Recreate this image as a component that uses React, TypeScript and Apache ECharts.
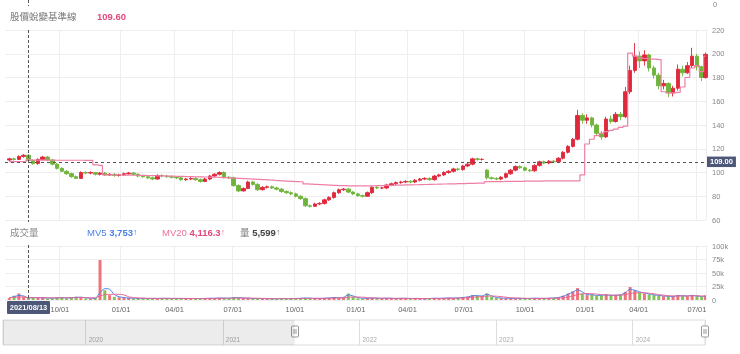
import React, { useEffect, useRef } from 'react';
import * as echarts from 'echarts';

// ---- calendar (trading days) ----
const CAL_START = '2021-07-12';
const CAL_END = '2024-07-12';
const HOLIDAYS = [
  '2021-09-20', '2021-09-21', '2021-10-11', '2021-12-31',
  '2022-01-27', '2022-01-28', '2022-01-31', '2022-02-01', '2022-02-02', '2022-02-03', '2022-02-04',
  '2022-02-28', '2022-04-04', '2022-04-05', '2022-05-02', '2022-06-03', '2022-09-09', '2022-10-10',
  '2023-01-02', '2023-01-18', '2023-01-19', '2023-01-20', '2023-01-23', '2023-01-24', '2023-01-25',
  '2023-01-26', '2023-01-27', '2023-02-27', '2023-02-28', '2023-04-03', '2023-04-04', '2023-04-05',
  '2023-05-01', '2023-06-22', '2023-06-23', '2023-09-29', '2023-10-09', '2023-10-10',
  '2024-01-01', '2024-02-06', '2024-02-07', '2024-02-08', '2024-02-09', '2024-02-12', '2024-02-13',
  '2024-02-14', '2024-02-28', '2024-04-04', '2024-04-05', '2024-05-01', '2024-06-10',
];
const STEP = 5; // one candle per 5 trading days
const OFFSET = 4;
const CROSSHAIR_DATE = '2021/08/13';
const BASE_LEVEL = 109;

// ---- price (weekly candles) ----
const opens = [
  110.5, 111.5, 111, 113.5, 114.5, 110, 107.5, 111, 113, 110.5,
  107, 103.5, 101, 99, 96.5, 95, 100, 99.5, 100, 98.5,
  99.5, 98, 98.5, 97.5, 98, 99, 99.5, 98.5, 97, 96.5,
  95.5, 94.5, 97.5, 97, 96.5, 96, 95.5, 94, 94.5, 95,
  94, 92.5, 94.5, 97, 98.5, 100, 96, 95.5, 89, 84.5,
  86.5, 92, 90, 85.5, 87.5, 88, 87, 86, 84, 83,
  82, 80, 78, 72, 71.5, 73.5, 74, 77, 79, 83,
  85.5, 86, 83.5, 82, 80.5, 80, 83, 87.5, 87, 87,
  89.5, 90.5, 91.5, 92, 92.5, 92, 93.5, 94.5, 95, 94,
  97, 98, 100, 101, 103, 102.5, 105.5, 107, 111.5, 111,
  102, 95.5, 95, 94.5, 96, 99, 102, 105, 104, 102,
  101.5, 106, 109, 108, 109.5, 109, 112, 117, 122, 128,
  148, 144, 146, 140, 133, 130, 145, 143, 149, 147,
  168, 186, 198, 194, 199, 188, 182, 173, 175, 167,
  171, 187, 184, 190, 198, 189, 180,
];
const closes = [
  111.5, 111, 113.5, 114.5, 110, 107.5, 111, 113, 110.5, 107,
  103.5, 101, 99, 96.5, 95, 100, 99.5, 100, 98.5, 99.5,
  98, 98.5, 97.5, 98, 99, 99.5, 98.5, 97, 96.5, 95.5,
  94.5, 97.5, 97, 96.5, 96, 95.5, 94, 94.5, 95, 94,
  92.5, 94.5, 97, 98.5, 100, 96, 95.5, 89, 84.5, 86.5,
  92, 90, 85.5, 87.5, 88, 87, 86, 84, 83, 82,
  80, 78, 72, 71.5, 73.5, 74, 77, 79, 83, 85.5,
  86, 83.5, 82, 80.5, 80, 83, 87.5, 87, 87, 89.5,
  90.5, 91.5, 92, 92.5, 92, 93.5, 94.5, 95, 94, 97,
  98, 100, 101, 103, 102.5, 105.5, 107, 111.5, 111, 111,
  95.5, 95, 94.5, 96, 99, 102, 105, 104, 102, 101.5,
  106, 109, 108, 109.5, 109, 112, 117, 122, 128, 148,
  144, 146, 140, 133, 130, 145, 143, 149, 147, 168,
  186, 198, 194, 199, 188, 182, 173, 175, 167, 171,
  187, 184, 190, 198, 189, 180, 199.5,
];
const lows = [
  109.5, 110, 110.5, 112.5, 109, 106.5, 106.5, 110, 109.5, 106,
  102.5, 100.5, 98, 95.5, 94.5, 94.5, 98.5, 98.5, 97.5, 97.5,
  97, 97, 96.5, 96.5, 97, 98, 97.5, 96, 95.5, 94.5,
  93.5, 94, 96, 95.5, 95, 94.5, 93, 93, 93.5, 93,
  91.5, 92, 93.5, 96, 97.5, 95, 94.5, 88, 83.5, 84,
  86, 89, 84.5, 85, 86.5, 86, 85, 83, 82, 81,
  79, 77, 71, 70.5, 71, 72.5, 73, 76, 78, 82,
  84.5, 82.5, 81, 79.5, 79, 79.5, 82, 86, 86, 86,
  88.5, 89.5, 90.5, 91, 91, 91, 92.5, 93.5, 93, 93,
  96, 97, 99, 100, 101.5, 101.5, 104.5, 106, 110, 110,
  94, 94, 93.5, 93.5, 95, 98, 101, 103, 101, 100.5,
  100.5, 105, 107, 107, 108, 108, 111, 116, 121, 127,
  141, 141, 138, 131, 127.5, 129, 141, 142, 144, 146,
  166, 184, 188, 190, 185, 179, 170, 170, 163.5, 164,
  169, 181, 183, 188, 186, 177, 179,
];
const highs = [
  112.5, 112.5, 114.5, 115.5, 115.5, 111, 112, 114, 114, 111.5,
  108, 104.5, 102, 100, 97.5, 101, 101, 101, 100.5, 100.5,
  100.5, 99.5, 99.5, 99, 100, 100.5, 100.5, 99.5, 98, 97.5,
  96.5, 98.5, 98.5, 98, 97.5, 97, 96.5, 95.5, 96, 96,
  95, 95.5, 98, 99.5, 101, 101, 97, 96.5, 90, 87.5,
  93, 93, 91, 88.5, 89, 89, 88, 87, 85, 84,
  83, 81, 79, 73, 74.5, 75, 78, 80, 84, 86.5,
  87, 87, 84.5, 83, 81.5, 84, 88.5, 88.5, 88, 90.5,
  91.5, 92.5, 93, 93.5, 93.5, 94.5, 95.5, 96, 96, 98,
  99, 101, 102, 104, 104, 106.5, 108, 112.5, 112.5, 112,
  103, 96.5, 96, 97, 100, 103, 106, 106, 105, 103,
  107, 110, 110, 110.5, 110.5, 113, 118, 123, 129, 152.8,
  150, 149, 147, 141, 135, 147, 148, 151, 151, 172,
  190, 209, 202, 203, 200, 190, 184, 178, 176, 173,
  191, 190, 193, 205, 200, 190, 201,
];
const baseline = [
  109.2, 109.2, 109.2, 109.2, 110.6, 110.5, 110.5, 110.4, 110.4, 110.4,
  110.3, 110.3, 110.3, 110.3, 110.3, 110.3, 110.2, 110.2, 106.4, 106,
  98, 98, 98, 97.9, 97.8, 97.8, 97.7, 97.6, 97.5, 97.4,
  97.3, 97.2, 97.1, 97, 96.9, 96.8, 96.7, 96.6, 96.5, 96.4,
  96.3, 96.2, 96.1, 96, 95.9, 95.7, 95.5, 95.3, 95, 94.8,
  94.6, 94.4, 94.2, 94, 93.8, 93.5, 93.2, 93, 92.8, 92.5,
  92.3, 92.2, 90.4, 90.2, 90, 89.8, 89.6, 89.4, 89.2, 89,
  88.9, 88.8, 88.7, 88.7, 88.7, 88.8, 88.8, 88.9, 89, 89.1,
  89.2, 89.3, 89.4, 89.5, 89.6, 89.7, 89.8, 89.9, 90, 90.1,
  90.2, 90.3, 90.4, 90.5, 90.6, 90.7, 90.8, 90.9, 91, 91,
  92.3, 92.3, 92.4, 92.4, 92.5, 92.5, 92.6, 92.6, 92.7, 92.7,
  92.8, 92.8, 92.9, 92.9, 92.9, 92.9, 92.9, 93, 93, 93,
  98, 124, 128, 131, 133, 134.5, 135.5, 136.5, 138, 139,
  200.5, 198, 196.5, 196, 195.5, 195.5, 195, 168, 167, 167,
  167.5, 172, 180, 188, 190, 185, 198,
];

// ---- volume ----
const volumes = [
  3500, 8000, 12000, 6000, 5600, 4000, 3500, 5000, 3000, 3500,
  4000, 5000, 3500, 4500, 6000, 5000, 3000, 2500, 3500, 74000,
  18000, 9000, 6000, 5000, 4000, 3500, 3000, 3500, 3000, 2500,
  3000, 2800, 3500, 3000, 2500, 3000, 2800, 2500, 3000, 2500,
  2500, 3000, 3500, 3000, 4000, 3500, 3000, 5000, 4500, 3500,
  3000, 2500, 3000, 2500, 2000, 2500, 2000, 3000, 2500, 2500,
  3000, 3500, 4000, 3000, 2500, 3000, 3500, 4000, 5000, 4000,
  5000, 12000, 6000, 3000, 2500, 3500, 4000, 3000, 3000, 3500,
  3000, 2500, 3500, 3000, 2500, 3000, 2500, 2000, 3000, 3500,
  3000, 3500, 4000, 3500, 4000, 5000, 6000, 9000, 8000, 7000,
  12000, 6000, 4000, 3500, 3000, 3500, 3000, 3000, 2500, 3000,
  3500, 3000, 3000, 3500, 4000, 5000, 8000, 12000, 16000, 22000,
  12000, 9000, 10000, 8000, 9000, 10000, 8000, 9000, 10000, 15000,
  24000, 18000, 14000, 12000, 10000, 9000, 8000, 7000, 7000, 6000,
  9000, 8000, 7000, 9000, 7000, 6000, 8000,
];
const mv5 = [
  4200, 6000, 8500, 7500, 3800, 4500, 4200, 4000, 3600, 3500,
  3800, 4300, 4200, 4300, 5000, 5200, 4200, 3300, 3000, 14000,
  21000, 20000, 10000, 6000, 4500, 3800, 3300, 3200, 3000, 2800,
  2900, 2900, 3100, 3100, 2900, 2900, 2900, 2700, 2800, 2700,
  2600, 2800, 3200, 3300, 3600, 3600, 3300, 4200, 4500, 3900,
  3200, 2800, 2800, 2600, 2300, 2400, 2200, 2600, 2600, 2500,
  2800, 3300, 3700, 3400, 2800, 2900, 3300, 3800, 4600, 4300,
  5000, 9500, 7500, 4500, 3200, 3200, 3700, 3300, 3000, 3300,
  3100, 2700, 3200, 3100, 2700, 2900, 2700, 2300, 2700, 3300,
  3100, 3400, 3800, 3600, 3900, 4700, 5600, 8000, 8200, 7300,
  11000, 7500, 4800, 3800, 3200, 3300, 3100, 3000, 2700, 2900,
  3300, 3100, 3000, 3300, 3800, 4700, 7000, 10500, 14500, 19000,
  15000, 10000, 9800, 8500, 8800, 9500, 8500, 8800, 9500, 13500,
  20000, 18000, 15000, 13000, 11000, 9500, 8500, 7500, 7000, 6500,
  8000, 8000, 7500, 8500, 7500, 6500, 7500,
];
const mv20 = [
  4500, 4800, 5500, 5800, 4100, 4300, 4400, 4300, 4200, 4000,
  4000, 4100, 4100, 4000, 4300, 4500, 4500, 4200, 4000, 7500,
  10000, 10500, 10500, 10500, 9500, 6000, 4500, 3800, 3400, 3200,
  3100, 3000, 3000, 3000, 3000, 2900, 2900, 2900, 2800, 2800,
  2800, 2800, 2900, 3000, 3100, 3200, 3300, 3500, 3700, 3700,
  3600, 3400, 3200, 3000, 2800, 2600, 2500, 2500, 2500, 2500,
  2600, 2700, 2900, 3100, 3100, 3100, 3100, 3200, 3500, 3700,
  4000, 5000, 5500, 5500, 5200, 4500, 3800, 3500, 3300, 3300,
  3200, 3100, 3000, 3000, 2900, 2900, 2900, 2800, 2800, 2800,
  2900, 3000, 3200, 3400, 3500, 3800, 4300, 5000, 5800, 6300,
  7000, 7300, 7000, 6300, 5200, 4300, 3800, 3500, 3200, 3000,
  3000, 3000, 3000, 3100, 3200, 3500, 4300, 5500, 7500, 10000,
  11500, 12000, 11500, 11000, 10000, 9500, 9000, 9000, 9000, 10000,
  12000, 13000, 13500, 13500, 12500, 11500, 10000, 9000, 8000, 7500,
  7500, 7500, 7500, 7800, 7800, 7500, 7500,
];

// ---- slider range ----
const SLIDER_MIN = '2019-05-25';
const SLIDER_MAX = '2024-07-12';
const WINDOW_START = '2021-07-12';

// ---- header texts ----
const HEADER_NAME = '股價蛻變基準線';
const HEADER_VALUE = '109.60';
const VOL_TITLE = '成交量';
const MV5_TEXT = '3,753';
const MV20_TEXT = '4,116.3';
const VOL_TEXT = '5,599';

const FONT = "'Liberation Sans', 'Noto Sans CJK TC', sans-serif";
const UP = '#e0283c';
const DOWN = '#6fb43a';
const VUP = 'rgba(235,90,100,0.85)';
const VDOWN = 'rgba(110,185,60,0.85)';
const BLUE = '#4a80e8';
const PINK = '#e9638f';
const BOX = '#4d5778';

function tradingDays(): string[] {
  const hol = new Set(HOLIDAYS);
  const out: string[] = [];
  const d = new Date(CAL_START + 'T00:00:00Z');
  const end = new Date(CAL_END + 'T00:00:00Z');
  while (d.getTime() <= end.getTime()) {
    const wd = d.getUTCDay();
    const iso = d.toISOString().slice(0, 10);
    if (wd !== 0 && wd !== 6 && !hol.has(iso)) out.push(iso.replace(/-/g, '/'));
    d.setUTCDate(d.getUTCDate() + 1);
  }
  return out;
}

const ts = (s: string) => new Date(s + 'T00:00:00').getTime();

export default function App() {
  const ref = useRef<HTMLDivElement>(null);
  useEffect(() => {
    if (!ref.current) return;
    const chart = echarts.init(ref.current, null, { renderer: 'svg' });
    const days = tradingDays();
    const idx = (k: number) => Math.min(k * STEP + OFFSET, days.length - 1);
    const quarterStart = (i: number) => {
      if (i <= 0) return false;
      const m = +days[i].slice(5, 7);
      const pm = +days[i - 1].slice(5, 7);
      return m !== pm && (m === 1 || m === 4 || m === 7 || m === 10);
    };
    const gridLine = { show: true, interval: (i: number) => quarterStart(i), lineStyle: { color: '#eeeeee', width: 1 } };

    const option: any = {
      animation: false,
      textStyle: { fontFamily: FONT },
      grid: [
        { left: 5, right: 34, top: 30, height: 190 },
        { left: 5, right: 34, top: 246, height: 54 },
        { left: 3, right: 35, top: 320, height: 25, show: true, borderColor: '#dcdcdc', borderWidth: 1, backgroundColor: 'transparent' },
      ],
      xAxis: [
        {
          type: 'category', gridIndex: 0, data: days, boundaryGap: true,
          axisLine: { show: false }, axisTick: { show: false }, axisLabel: { show: false },
          splitLine: gridLine,
        },
        {
          type: 'category', gridIndex: 1, data: days, boundaryGap: true,
          axisLine: { show: false }, axisTick: { show: false },
          axisLabel: {
            show: true, interval: (i: number) => quarterStart(i),
            formatter: (v: string) => v.slice(5, 7) + '/01',
            fontSize: 7.5, color: '#666', margin: 6, fontFamily: FONT,
          },
          splitLine: gridLine,
        },
        {
          type: 'time', gridIndex: 2, min: ts(SLIDER_MIN), max: ts(SLIDER_MAX),
          minInterval: 3600 * 24 * 1000 * 360, maxInterval: 3600 * 24 * 1000 * 370,
          axisLine: { show: false }, axisTick: { show: false },
          axisLabel: {
            inside: true, align: 'left', margin: 2, fontSize: 6.5, color: '#aaaaaa',
            padding: [0, 0, 0, 3], showMinLabel: false, showMaxLabel: false,
            formatter: (v: number) => String(new Date(v).getFullYear()), fontFamily: FONT,
          },
          splitLine: { show: true, lineStyle: { color: '#dddddd' } },
        },
      ],
      yAxis: [
        {
          type: 'value', gridIndex: 0, position: 'right', min: 60, max: 220, interval: 20,
          axisLine: { show: false }, axisTick: { show: false },
          axisLabel: { fontSize: 7.5, color: '#888', margin: 6, fontFamily: FONT },
          splitLine: { lineStyle: { color: '#eeeeee' } },
        },
        {
          type: 'value', gridIndex: 1, position: 'right', min: 0, max: 100000, interval: 25000,
          axisLine: { show: false }, axisTick: { show: false },
          axisLabel: {
            fontSize: 7.5, color: '#888', margin: 6, fontFamily: FONT,
            formatter: (v: number) => (v === 0 ? '0' : v / 1000 + 'k'),
          },
          splitLine: { lineStyle: { color: '#eeeeee' } },
        },
        { type: 'value', gridIndex: 2, show: false, min: 0, max: 1 },
      ],
      series: [
        {
          type: 'candlestick', xAxisIndex: 0, yAxisIndex: 0, barWidth: 4,
          encode: { x: 0, y: [1, 2, 3, 4] },
          data: closes.map((c, k) => [idx(k), opens[k], c, lows[k], highs[k]]),
          itemStyle: { color: UP, color0: DOWN, borderColor: UP, borderColor0: DOWN, borderWidth: 0.9 },
          markLine: {
            silent: true, symbol: ['none', 'none'],
            lineStyle: { type: [3, 3], color: '#555', width: 1 },
            label: {
              show: true, position: 'end', distance: 1, formatter: BASE_LEVEL.toFixed(2),
              backgroundColor: BOX, color: '#fff', fontSize: 7.5, fontWeight: 'bold',
              padding: [2, 3, 1, 3], fontFamily: FONT,
            },
            data: [{ yAxis: BASE_LEVEL }],
          },
          z: 3,
        },
        {
          type: 'line', xAxisIndex: 0, yAxisIndex: 0, step: 'middle', symbol: 'none',
          data: baseline.map((v, k) => [idx(k), v]),
          lineStyle: { color: '#ee7fa6', width: 1.2 }, z: 4,
        },
        {
          type: 'bar', xAxisIndex: 1, yAxisIndex: 1, barWidth: 3,
          data: volumes.map((v, k) => ({ value: [idx(k), v], itemStyle: { color: closes[k] >= opens[k] ? VUP : VDOWN } })),
        },
        {
          type: 'line', xAxisIndex: 1, yAxisIndex: 1, symbol: 'none', smooth: 0.2,
          data: mv5.map((v, k) => [idx(k), v]), lineStyle: { color: BLUE, width: 1 }, z: 5,
        },
        {
          type: 'line', xAxisIndex: 1, yAxisIndex: 1, symbol: 'none', smooth: 0.2,
          data: mv20.map((v, k) => [idx(k), v]), lineStyle: { color: PINK, width: 1 }, z: 5,
        },
        {
          type: 'line', xAxisIndex: 2, yAxisIndex: 2, symbol: 'none', silent: true,
          data: [[ts(SLIDER_MIN), 0.5]], lineStyle: { opacity: 0 },
          markArea: {
            silent: true, itemStyle: { color: 'rgba(0,0,0,0.075)' },
            data: [[{ xAxis: ts(SLIDER_MIN) }, { xAxis: ts(WINDOW_START) }]],
          },
        },
      ],
    };
    chart.setOption(option);

    const cIdx = days.indexOf(CROSSHAIR_DATE);
    const cx = Math.round(chart.convertToPixel({ xAxisIndex: 0 }, cIdx) as number) + 0.5;
    const hL = chart.convertToPixel({ xAxisIndex: 2 }, ts(WINDOW_START)) as number;
    const hR = chart.convertToPixel({ xAxisIndex: 2 }, ts(SLIDER_MAX)) as number;
    const seg = (y1: number, y2: number) => ({
      type: 'line', silent: true, z: 50,
      shape: { x1: cx, y1, x2: cx, y2 },
      style: { stroke: '#555', lineWidth: 1, lineDash: [3, 2] },
    });
    const handle = (x: number) => ({
      type: 'group', x: Math.round(x) - 3.5, y: 326, z: 60,
      children: [
        { type: 'rect', shape: { x: 0, y: 0, width: 7, height: 11, r: 1 }, style: { fill: '#fff', stroke: '#999', lineWidth: 1 } },
        { type: 'line', shape: { x1: 2.5, y1: 3, x2: 2.5, y2: 8 }, style: { stroke: '#999', lineWidth: 1 } },
        { type: 'line', shape: { x1: 4.5, y1: 3, x2: 4.5, y2: 8 }, style: { stroke: '#999', lineWidth: 1 } },
      ],
    });
    const txt = (x: number, y: number, text: string, font: string, fill: string) => ({
      type: 'text', x, y, z: 60, silent: true,
      style: { text, font, fill, align: 'left', verticalAlign: 'middle' },
    });
    const rt = (x: number, y: number, text: string, ca: string, cb: string) => ({
      type: 'text', x, y, z: 60, silent: true,
      style: {
        text, align: 'left', verticalAlign: 'middle', fill: ca,
        font: `9.5px ${FONT}`,
        rich: {
          a: { fill: ca, fontSize: 9.5, fontFamily: FONT },
          b: { fill: cb, fontSize: 9.5, fontWeight: 'bold', fontFamily: FONT },
          c: { fill: ca, fontSize: 8.5, fontFamily: FONT },
        },
      },
    });
    chart.setOption({
      graphic: {
        elements: [
          seg(0, 6), seg(30, 222), seg(245, 300),
          {
            type: 'rect', z: 60, silent: true,
            shape: { x: cx - 21.5, y: 301, width: 43, height: 13, r: 1 },
            style: { fill: BOX },
          },
          {
            type: 'text', x: cx, y: 307.5, z: 61, silent: true,
            style: { text: CROSSHAIR_DATE, font: `bold 7.5px ${FONT}`, fill: '#fff', align: 'center', verticalAlign: 'middle' },
          },
          handle(hL), handle(hR),
          txt(713, 4.5, '0', `7.5px ${FONT}`, '#888'),
          txt(10, 16, HEADER_NAME, `9.5px ${FONT}`, '#777'),
          txt(97, 16, HEADER_VALUE, `bold 9.5px ${FONT}`, '#e2487e'),
          txt(10, 232, VOL_TITLE, `9.5px ${FONT}`, '#888'),
          rt(87, 232, `{a|MV5} {b|${MV5_TEXT}}{c|↑}`, BLUE, BLUE),
          rt(162, 232, `{a|MV20} {b|${MV20_TEXT}}{c|↑}`, '#e8739a', '#e2487e'),
          rt(240, 232, `{a|量} {b|${VOL_TEXT}}{c|↑}`, '#777', '#444'),
        ],
      },
    });
    return () => chart.dispose();
  }, []);
  return <div ref={ref} style={{ position: 'fixed', left: 0, top: 0, width: 740, height: 354 }} />;
}
